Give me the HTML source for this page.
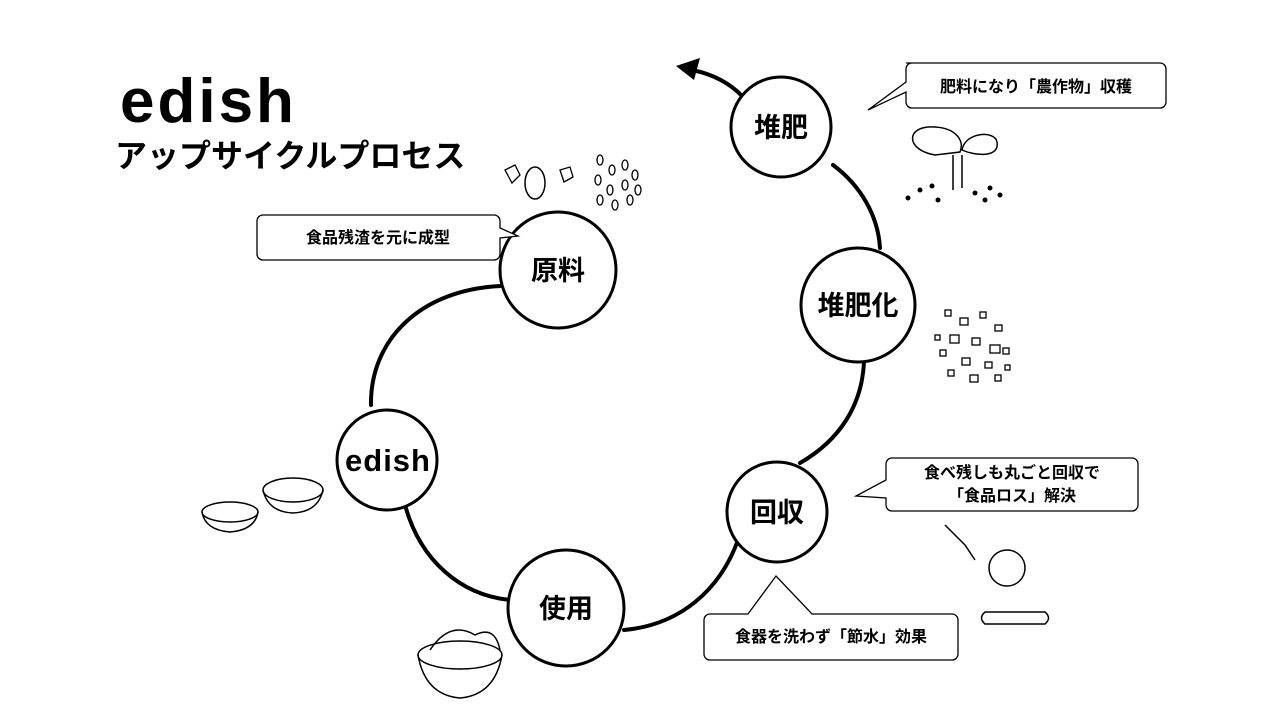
<!DOCTYPE html>
<html><head><meta charset="utf-8"><style>
body{margin:0;width:1280px;height:720px;background:#fff;overflow:hidden;font-family:"Liberation Sans","Noto Sans CJK JP",sans-serif}
svg{position:absolute;left:0;top:0}
</style></head><body>
<svg width="1280" height="720" viewBox="0 0 1280 720" font-family="Liberation Sans, Noto Sans CJK JP, sans-serif">
<g fill="none" stroke="#000" stroke-width="4" stroke-linecap="round">
<path d="M500,286 C420,290 370,340 371,405"/>
<path d="M405,505 C420,560 460,595 510,600"/>
<path d="M624,630 C680,625 720,590 738,540"/>
<path d="M800,463 C840,440 862,405 864,362"/>
<path d="M880,248 C878,215 860,185 833,165"/>
<path d="M743,97 C730,83 712,74 692,70"/>
</g>
<polygon points="676,66 700,58 694,80" fill="#000"/>
<g fill="#fff" stroke="#000" stroke-width="3">
<circle cx="781" cy="127" r="50"/>
<circle cx="858" cy="305" r="57"/>
<circle cx="558" cy="270" r="58"/>
<circle cx="387" cy="460" r="50"/>
<circle cx="566" cy="608" r="58"/>
<circle cx="777" cy="512" r="50"/>
</g>
<g font-weight="bold" font-size="27" text-anchor="middle" fill="#000">
<text x="781" y="137">堆肥</text>
<text x="858" y="315">堆肥化</text>
<text x="558" y="280">原料</text>
<text x="566" y="618">使用</text>
<text x="777" y="522">回収</text>
</g>
<text x="388" y="471" font-size="31" font-weight="bold" text-anchor="middle" letter-spacing="1">edish</text>
<text x="120" y="122" font-size="62" font-weight="bold" letter-spacing="3">edish</text>
<text x="115" y="167" font-size="32" font-weight="bold">アップサイクルプロセス</text>
<g fill="#fff" stroke="#000" stroke-width="1.3">
<path d="M906,63 H1160 a6,6 0 0 1 6,6 V102 a6,6 0 0 1 -6,6 H912 a6,6 0 0 1 -6,-6 V92 L868,110 L906,82 V69 a6,6 0 0 1 6,-6Z"/>
<path d="M263,215 H494 a6,6 0 0 1 6,6 V228 L518,236 L500,238 V254 a6,6 0 0 1 -6,6 H263 a6,6 0 0 1 -6,-6 V221 a6,6 0 0 1 6,-6Z"/>
<path d="M892,458 H1132 a6,6 0 0 1 6,6 V505 a6,6 0 0 1 -6,6 H892 a6,6 0 0 1 -6,-6 V498 L856,496 L886,480 V464 a6,6 0 0 1 6,-6Z"/>
<path d="M710,614 H748 L776,576 L812,614 H952 a6,6 0 0 1 6,6 V654 a6,6 0 0 1 -6,6 H710 a6,6 0 0 1 -6,-6 V620 a6,6 0 0 1 6,-6Z"/>
</g>
<g font-size="16" font-weight="bold" text-anchor="middle" fill="#000">
<text x="1036" y="92">肥料になり「農作物」収穫</text>
<text x="378" y="243">食品残渣を元に成型</text>
<text x="1012" y="478">食べ残しも丸ごと回収で</text>
<text x="1012" y="501">「食品ロス」解決</text>
<text x="831" y="642">食器を洗わず「節水」効果</text>
</g>
<g fill="none" stroke="#000" stroke-width="1.5">
<path d="M935,155 C905,150 905,125 935,127 C955,128 965,140 960,152 Z"/><path d="M962,150 C965,132 995,130 997,142 C1000,158 975,156 962,150Z"/>
<path d="M953,155 V190 M962,155 V188"/>
<ellipse cx="230" cy="512" rx="28" ry="10"/><path d="M202,512 Q205,530 230,532 Q255,530 258,512"/>
<ellipse cx="293" cy="490" rx="30" ry="12"/><path d="M263,490 Q268,512 293,513 Q318,512 323,490"/>
<ellipse cx="460" cy="655" rx="42" ry="14"/><path d="M418,655 Q425,695 460,698 Q495,695 502,655"/>
<path d="M430,650 Q450,620 475,635 Q495,625 500,650"/>
<path d="M985,612 H1045 Q1052,618 1045,624 H985 Q978,618 985,612Z"/>
<circle cx="1007" cy="568" r="18"/>
<path d="M945,525 L965,545 L975,560"/>
<ellipse cx="535" cy="183" rx="10" ry="16"/>
</g>
<g fill="#000">
<circle cx="908" cy="198" r="2.5"/><circle cx="920" cy="190" r="2.5"/><circle cx="932" cy="186" r="2.5"/><circle cx="938" cy="200" r="2.5"/><circle cx="975" cy="193" r="2.5"/><circle cx="990" cy="188" r="2.5"/><circle cx="1000" cy="195" r="2.5"/><circle cx="985" cy="200" r="2.5"/>
</g>
<g fill="none" stroke="#000" stroke-width="1.3">
<rect x="945" y="310" width="6" height="6"/><rect x="960" y="318" width="8" height="7"/><rect x="980" y="312" width="6" height="6"/><rect x="995" y="325" width="7" height="6"/><rect x="950" y="335" width="9" height="8"/><rect x="972" y="338" width="8" height="7"/><rect x="990" y="345" width="10" height="8"/><rect x="940" y="350" width="6" height="6"/><rect x="962" y="358" width="8" height="7"/><rect x="985" y="362" width="7" height="6"/><rect x="1003" y="348" width="6" height="6"/><rect x="948" y="370" width="6" height="6"/><rect x="970" y="375" width="8" height="7"/><rect x="995" y="375" width="6" height="6"/><rect x="935" y="335" width="5" height="5"/><rect x="1005" y="365" width="5" height="5"/>
<ellipse cx="600" cy="160" rx="3" ry="5"/><ellipse cx="612" cy="170" rx="3" ry="5"/><ellipse cx="625" cy="165" rx="3" ry="5"/><ellipse cx="598" cy="180" rx="3" ry="5"/><ellipse cx="610" cy="190" rx="3" ry="5"/><ellipse cx="625" cy="185" rx="3" ry="5"/><ellipse cx="635" cy="175" rx="3" ry="5"/><ellipse cx="600" cy="200" rx="3" ry="5"/><ellipse cx="615" cy="205" rx="3" ry="5"/><ellipse cx="630" cy="200" rx="3" ry="5"/><ellipse cx="638" cy="190" rx="3" ry="5"/>
<path d="M505,170 l10,-5 l5,10 l-8,8Z M560,170 l10,-3 l3,10 l-9,5Z"/>
</g>
</svg>
</body></html>
